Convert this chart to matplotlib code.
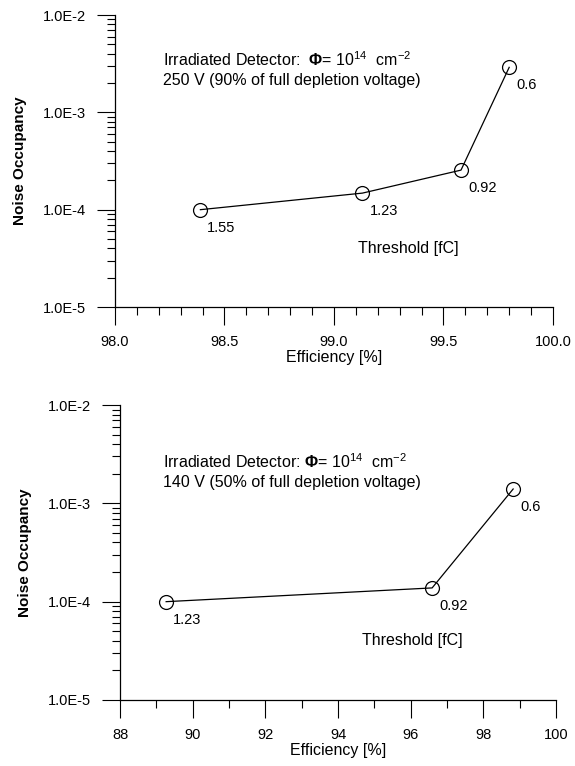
import math
import matplotlib
matplotlib.use('Agg')
import matplotlib.pyplot as plt
from matplotlib.ticker import FuncFormatter, LogLocator, MultipleLocator

plt.rcParams['font.family'] = ['Liberation Sans', 'DejaVu Sans']
plt.rcParams['mathtext.fontset'] = 'custom'
plt.rcParams['mathtext.rm'] = 'Liberation Sans'
plt.rcParams['mathtext.bf'] = 'Liberation Sans:bold'

# Top panel: 250 V
eff_250 = [98.39, 99.13, 99.58, 99.80]
noise_250 = [1.0e-4, 1.48e-4, 2.55e-4, 2.9e-3]
thr_250 = ['1.55', '1.23', '0.92', '0.6']

# Bottom panel: 140 V
eff_140 = [89.27, 96.59, 98.82]
noise_140 = [1.0e-4, 1.38e-4, 1.4e-3]
thr_140 = ['1.23', '0.92', '0.6']


def sci_fmt(v, pos):
    exp = int(round(math.log10(v)))
    return f"1.0E{exp}"


def setup(ax, xlim, xmajor, xminor, xfmt):
    ax.set_yscale('log')
    ax.set_ylim(1e-5, 1e-2)
    ax.set_xlim(*xlim)
    ax.spines['top'].set_visible(False)
    ax.spines['right'].set_visible(False)
    ax.spines['left'].set_linewidth(0.9)
    ax.spines['bottom'].set_linewidth(0.9)
    ax.yaxis.set_major_locator(LogLocator(base=10, numticks=10))
    ax.yaxis.set_minor_locator(LogLocator(base=10, subs=range(2, 10), numticks=10))
    ax.yaxis.set_major_formatter(FuncFormatter(sci_fmt))
    ax.xaxis.set_major_locator(MultipleLocator(xmajor))
    ax.xaxis.set_minor_locator(MultipleLocator(xminor))
    ax.xaxis.set_major_formatter(FuncFormatter(lambda v, p: xfmt.format(v)))
    ax.tick_params(which='major', direction='out', length=13, width=0.8, labelsize=10.5)
    ax.tick_params(axis='y', which='major', pad=8)
    ax.tick_params(axis='x', which='major', pad=7)
    ax.tick_params(which='minor', direction='out', length=6, width=0.8)
    ax.tick_params(axis='y', which='minor', labelleft=False)
    ax.set_xlabel('Efficiency [%]', fontsize=11.5, labelpad=1)
    ax.set_ylabel('Noise Occupancy', fontsize=11, fontweight='bold', labelpad=11)


def draw(ax, x, y, labels):
    ax.plot(x, y, '-', color='black', lw=0.9, marker='o', markersize=10,
            markerfacecolor='none', markeredgecolor='black', markeredgewidth=0.9,
            clip_on=False)
    for xi, yi, lab in zip(x, y, labels):
        ax.annotate(lab, (xi, yi), xytext=(5, -13), textcoords='offset points',
                    ha='left', va='center', fontsize=10.5)


fig = plt.figure(figsize=(5.75, 7.66), dpi=100)

ax1 = fig.add_axes([0.2, 0.5992, 0.7617, 0.3812])
setup(ax1, (98.0, 100.0), 0.5, 0.1, '{:.1f}')
draw(ax1, eff_250, noise_250, thr_250)
ax1.text(0.11, 0.846, r'Irradiated Detector:  $\mathbf{\Phi}$= 10$^{14}$  cm$^{-2}$',
         transform=ax1.transAxes, fontsize=11.5, va='center')
ax1.text(0.11, 0.777, '250 V (90% of full depletion voltage)',
         transform=ax1.transAxes, fontsize=11.5, va='center')
ax1.text(0.555, 0.202, 'Threshold [fC]', transform=ax1.transAxes, fontsize=11.5, va='center')

ax2 = fig.add_axes([0.2087, 0.0862, 0.7583, 0.385])
setup(ax2, (88, 100), 2, 1, '{:.0f}')
draw(ax2, eff_140, noise_140, thr_140)
ax2.text(0.099, 0.807, r'Irradiated Detector: $\mathbf{\Phi}$= 10$^{14}$  cm$^{-2}$',
         transform=ax2.transAxes, fontsize=11.5, va='center')
ax2.text(0.099, 0.739, '140 V (50% of full depletion voltage)',
         transform=ax2.transAxes, fontsize=11.5, va='center')
ax2.text(0.555, 0.203, 'Threshold [fC]', transform=ax2.transAxes, fontsize=11.5, va='center')

fig.savefig('out.png', dpi=100)
